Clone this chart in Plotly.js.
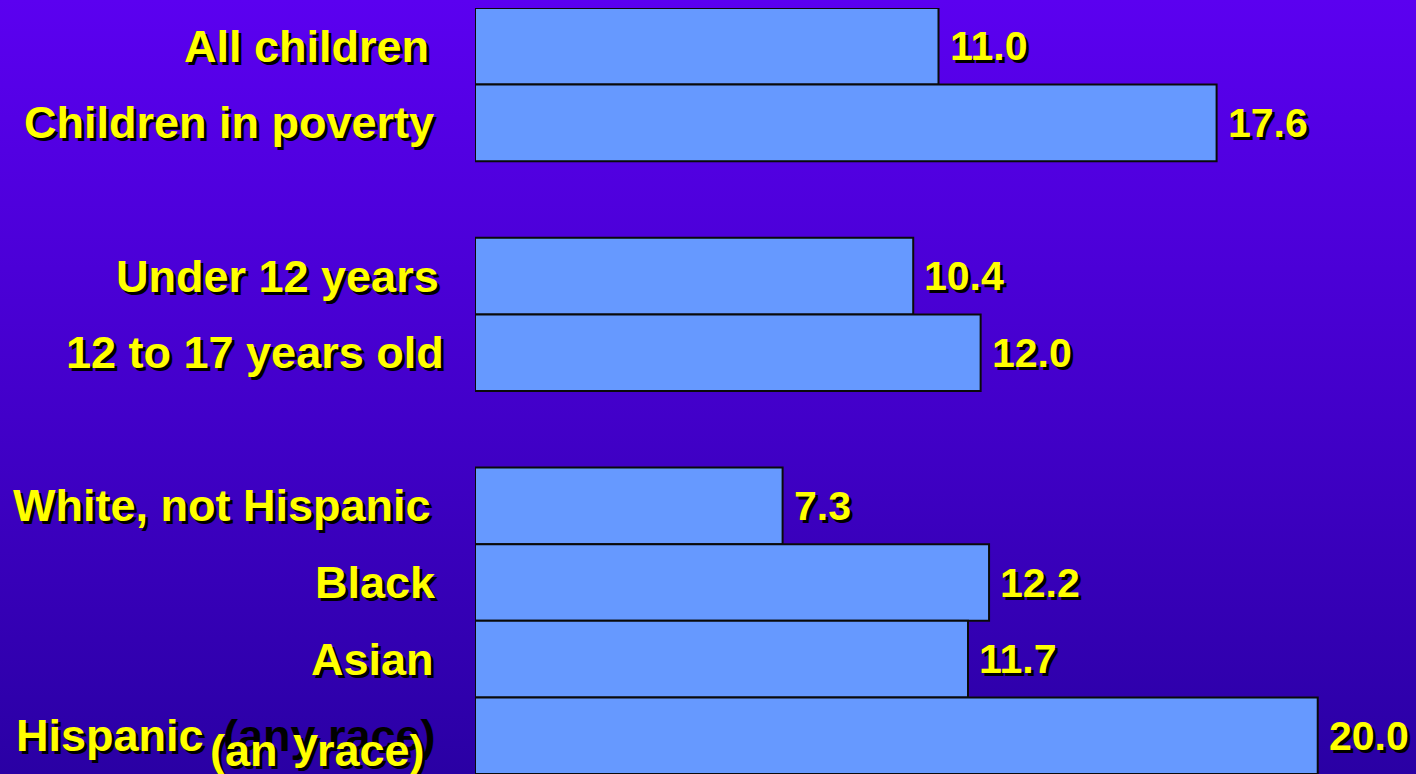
<!DOCTYPE html>
<html>
<head>
<meta charset="utf-8">
<script src="https://cdn.plot.ly/plotly-3.0.1.min.js"></script>
<style>
  html, body { margin: 0; padding: 0; }
  body { width: 1416px; height: 774px; overflow: hidden;
         background: linear-gradient(to bottom, #5b00f0 0%, #4400cc 50%, #2a00a4 100%); }
  #chart { width: 1416px; height: 774px; }
</style>
</head>
<body>
<div id="chart"></div>
<script>
// ---- data ----
const categories = ["All children", "Children in poverty", "spacer-1",
                    "Under 12 years", "12 to 17 years old", "spacer-2",
                    "White, not Hispanic", "Black", "Asian", "Hispanic (any race)"];
const values = [11.0, 17.6, null, 10.4, 12.0, null, 7.3, 12.2, 11.7, 20.0];
const valueLabels = ["11.0", "17.6", "", "10.4", "12.0", "", "7.3", "12.2", "11.7", "20.0"];

// ---- style (label right-edge offsets from the plot's left edge, px) ----
const labelShift = [-44, -39, 0, -34, -29, 0, -42, -37, -39, -38];
const YELLOW = "#ffff00";
const SHADOW = "3px 3px 0px #000000";
const FONT = "Liberation Sans, Arial, sans-serif";
const LBL = 45;

const trace = {
  type: "bar",
  orientation: "h",
  y: categories,
  x: values,
  marker: { color: "#6699ff", line: { color: "#0a0a0a", width: 2 } },
  hoverinfo: "none"
};

const annotations = [];
categories.forEach((c, i) => {
  if (c.startsWith("spacer")) return;
  if (c === "Hispanic (any race)") {
    annotations.push({ xref: "paper", x: 0, xanchor: "right", xshift: -269, y: c, yref: "y", yanchor: "middle",
      text: "Hispanic", showarrow: false,
      font: { family: FONT, size: LBL, weight: "bold", color: YELLOW, shadow: SHADOW } });
    annotations.push({ xref: "paper", x: 0, xanchor: "right", xshift: -37, y: c, yref: "y", yanchor: "middle",
      text: "(any race)", showarrow: false,
      font: { family: FONT, size: LBL, weight: "bold", color: "#000000" } });
    annotations.push({ xref: "paper", x: 0, xanchor: "left", xshift: -267, y: c, yref: "y", yanchor: "middle", yshift: -15,
      text: "(an", showarrow: false,
      font: { family: FONT, size: LBL, weight: "bold", color: YELLOW, shadow: SHADOW } });
    annotations.push({ xref: "paper", x: 0, xanchor: "left", xshift: -184, y: c, yref: "y", yanchor: "middle", yshift: -8,
      text: "y", showarrow: false,
      font: { family: FONT, size: LBL, weight: "bold", color: YELLOW, shadow: SHADOW } });
    annotations.push({ xref: "paper", x: 0, xanchor: "left", xshift: -160, y: c, yref: "y", yanchor: "middle", yshift: -15,
      text: "race)", showarrow: false,
      font: { family: FONT, size: LBL, weight: "bold", color: YELLOW, shadow: SHADOW } });
  } else {
    annotations.push({ xref: "paper", x: 0, xanchor: "right", xshift: labelShift[i], y: c, yref: "y", yanchor: "middle",
      text: c, showarrow: false,
      font: { family: FONT, size: LBL, weight: "bold", color: YELLOW, shadow: SHADOW } });
  }
  annotations.push({ xref: "x", x: values[i], xanchor: "left", xshift: 9, y: c, yref: "y", yanchor: "middle",
    text: valueLabels[i], showarrow: false,
    font: { family: FONT, size: 41, weight: "bold", color: YELLOW, shadow: SHADOW } });
});

const layout = {
  width: 1416, height: 774,
  margin: { l: 475, r: 14, t: 8, b: 0 },
  paper_bgcolor: "rgba(0,0,0,0)",
  plot_bgcolor: "rgba(0,0,0,0)",
  showlegend: false,
  bargap: 0,
  xaxis: { range: [0, 22], visible: false, fixedrange: true },
  yaxis: { type: "category", categoryorder: "array", categoryarray: categories,
           range: [9.5, -0.5], showticklabels: false, showgrid: false, zeroline: false,
           showline: false, ticks: "", fixedrange: true },
  annotations: annotations
};

Plotly.newPlot("chart", [trace], layout, { displayModeBar: false, staticPlot: true });
</script>
</body>
</html>
